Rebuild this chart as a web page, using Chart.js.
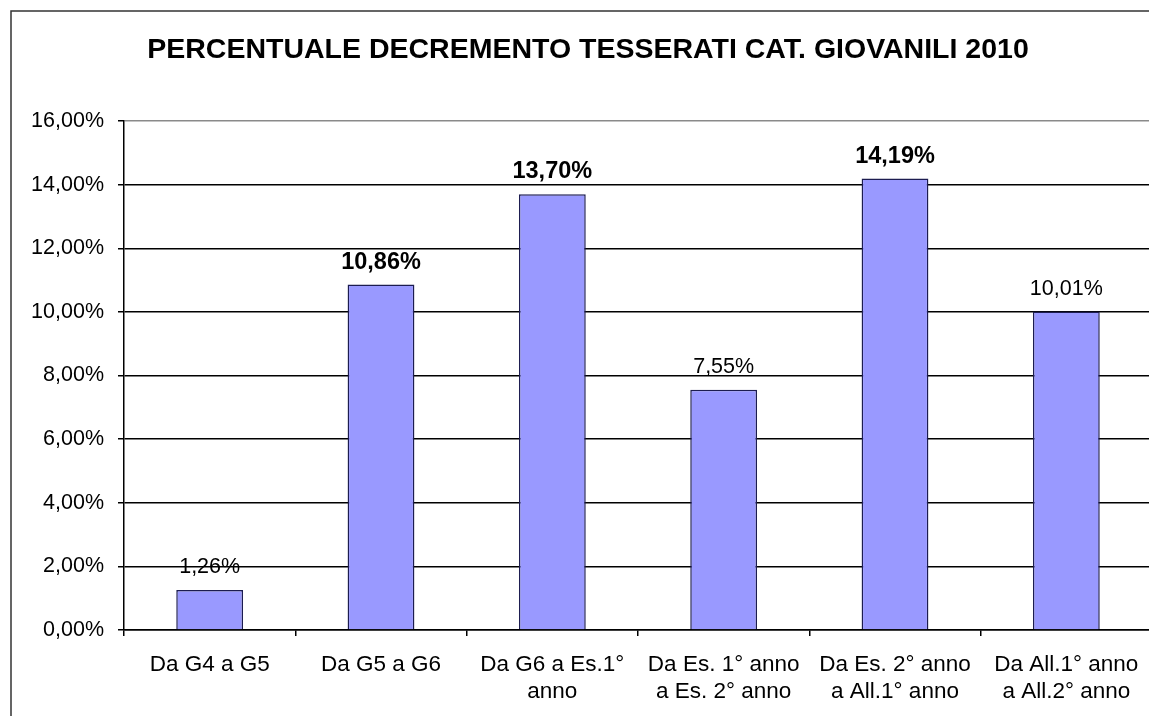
<!DOCTYPE html>
<html>
<head>
<meta charset="utf-8">
<script src="https://cdn.jsdelivr.net/npm/chart.js@4.4.1/dist/chart.umd.min.js"></script>
<style>
html,body{margin:0;padding:0;background:#fff;overflow:hidden;}
canvas{display:block;}
</style>
</head>
<body>
<canvas id="c" width="1160" height="716"></canvas>
<script>
const title = 'PERCENTUALE DECREMENTO TESSERATI CAT. GIOVANILI 2010';
const categories = [
  ['Da G4 a G5'],
  ['Da G5 a G6'],
  ['Da G6 a Es.1°', 'anno'],
  ['Da Es. 1° anno', 'a Es. 2° anno'],
  ['Da Es. 2° anno', 'a All.1° anno'],
  ['Da All.1° anno', 'a All.2° anno']
];
const values = [1.26, 10.86, 13.70, 7.55, 14.19, 10.01];
const yTicks = [0, 2, 4, 6, 8, 10, 12, 14, 16];

const FONT = '"Liberation Sans", Arial, sans-serif';
const fmt = v => v.toFixed(2).replace('.', ',') + '%';

const framePlugin = {
  id: 'frame',
  beforeDraw(chart) {
    const ctx = chart.ctx;
    ctx.save();
    ctx.fillStyle = '#fff';
    ctx.fillRect(0, 0, chart.width, chart.height);
    ctx.strokeStyle = '#333';
    ctx.lineWidth = 1.5;
    ctx.beginPath();
    ctx.moveTo(11, chart.height + 5);
    ctx.lineTo(11, 11);
    ctx.lineTo(chart.width + 5, 11);
    ctx.stroke();
    ctx.fillStyle = '#000';
    ctx.font = 'bold 28.5px ' + FONT;
    ctx.textAlign = 'center';
    ctx.textBaseline = 'middle';
    ctx.fillText(title, 588, 50);
    ctx.restore();
  }
};

const labelPlugin = {
  id: 'barLabels',
  afterDatasetsDraw(chart, args, opts) {
    const ctx = chart.ctx;
    const meta = chart.getDatasetMeta(0);
    ctx.save();
    ctx.fillStyle = '#000';
    ctx.textAlign = 'center';
    ctx.textBaseline = 'middle';
    meta.data.forEach((bar, i) => {
      const bold = opts.boldIndices.includes(i);
      ctx.font = bold ? 'bold 23.5px ' + FONT : '21.5px ' + FONT;
      ctx.fillText(fmt(values[i]), bar.x, bar.y - 22.5);
    });
    ctx.restore();
  }
};

new Chart(document.getElementById('c'), {
  type: 'bar',
  data: {
    labels: categories,
    datasets: [{
      data: values,
      backgroundColor: '#9999FF',
      borderColor: '#1c1c50',
      borderWidth: 1.5,
      barPercentage: 0.39,
      categoryPercentage: 1.0
    }]
  },
  options: {
    responsive: false,
    animation: false,
    layout: { padding: { top: 121, right: 8, bottom: 0, left: 0 } },
    plugins: {
      legend: { display: false },
      tooltip: { enabled: false },
      title: { display: false },
      barLabels: { boldIndices: [1, 2, 4] }
    },
    scales: {
      x: {
        offset: true,
        grid: {
          display: true,
          drawOnChartArea: false,
          drawTicks: true,
          tickLength: 6,
          offset: true,
          color: '#000',
          lineWidth: 1.5
        },
        border: { display: true, color: '#000', width: 1.5 },
        ticks: {
          color: '#000',
          font: { family: FONT, size: 22.5, lineHeight: 1.2 },
          padding: 15,
          maxRotation: 0,
          autoSkip: false
        },
        afterFit(scale) { scale.height = 86; }
      },
      y: {
        min: 0,
        max: 16,
        afterBuildTicks(scale) { scale.ticks = yTicks.map(v => ({ value: v })); },
        grid: {
          color: ctx => (ctx.tick && ctx.tick.value === 16) ? '#8a8a8a' : '#000',
          lineWidth: 1.5,
          drawTicks: true,
          tickLength: 6,
          tickColor: '#000'
        },
        border: { display: true, color: '#000', width: 1.5 },
        ticks: {
          color: '#000',
          font: { family: FONT, size: 21.5 },
          padding: 14,
          callback: v => fmt(v)
        },
        afterFit(scale) { scale.width = 124; }
      }
    }
  },
  plugins: [framePlugin, labelPlugin]
});
</script>
</body>
</html>
